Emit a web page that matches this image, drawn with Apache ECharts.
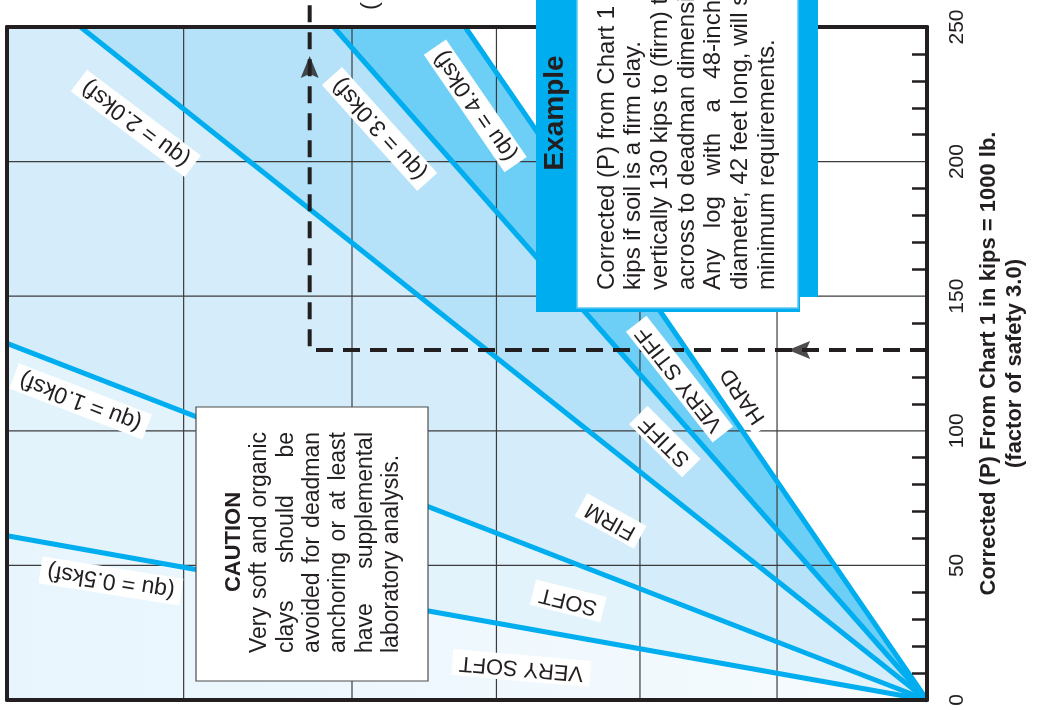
<!DOCTYPE html>
<html><head><meta charset="utf-8">
<script src="https://cdn.jsdelivr.net/npm/echarts@6/dist/echarts.min.js"></script>
<style>html,body{margin:0;padding:0;background:#fff}#c{width:1037px;height:710px}</style>
</head><body><div id="c"></div>
<script>
// ---------------- data ----------------
const pTicks = [0, 50, 100, 150, 200, 250];                 // Corrected (P), kips
const pGrid = [50, 100, 150, 200];
const hGrid = [16.3, 31.2, 46.8, 62.5, 80.8];               // deadman-dimension grid (relative units)
const hMax = 100, pMax = 250;

const quNames = ['(qu = 0.5ksf)', '(qu = 1.0ksf)', '(qu = 2.0ksf)', '(qu = 3.0ksf)', '(qu = 4.0ksf)'];
const quEndH = [100, 100, 92, 64.5, 50.2];                  // where each qu line meets the frame
const quEndP = [61, 132.5, 250, 250, 250];
const quLabelH = [88.7, 92.0, 86.0, 59.5, 49.1];
const quLabelP = [44.2, 110.9, 214.2, 212.1, 220.7];
const quLabelAngle = [171, 159, 143, 132, 124.5];

const soilNames = ['VERY SOFT', 'SOFT', 'FIRM', 'STIFF', 'VERY STIFF', 'HARD'];
const soilLabelH = [44.1, 39.0, 34.4, 28.5, 26.9, 20.0];
const soilLabelP = [11.9, 36.8, 66.5, 96.0, 119.2, 112.9];
const soilLabelAngle = [175, 166, 151, 135, 128, 124];

const exampleP = 130;          // kips
const exampleH = 67.1;         // deadman dimension reached
const examplePTop = 262;

const exampleTitle = 'Example';
const exampleLines = [
  'Corrected (P) from Chart 1 is 130',
  'kips if soil is a firm clay.',
  'vertically 130 kips to (firm) then',
  'across to deadman dimensions.',
  'Any log with a 48-inch',
  'diameter, 42 feet long, will satisfy',
  'minimum requirements.'
];
const cautionTitle = 'CAUTION';
const cautionLines = [
  'Very soft and organic',
  'clays should be',
  'avoided for deadman',
  'anchoring or at least',
  'have supplemental',
  'laboratory analysis.'
];
const axisTitle = 'Corrected (P) From Chart 1 in kips = 1000 lb.\n(factor of safety 3.0)';

// ---------------- styles ----------------
const FONT = "'Liberation Sans', Arial, Helvetica, sans-serif";
const INK = '#231f20';
const CYAN = '#00aeef';
const zoneFills = [
  new echarts.graphic.LinearGradient(0, 0, 1, 0, [{offset: 0, color: '#e8f5fd'}, {offset: 1, color: '#f6fbfe'}]),
  '#e2f3fc', '#d5edfa', '#b5e2f8', '#6dcff6'
];

const zonePolys = [
  [[0, 0], [hMax, 0], [quEndH[0], quEndP[0]]],
  [[0, 0], [quEndH[0], quEndP[0]], [quEndH[1], quEndP[1]]],
  [[0, 0], [quEndH[1], quEndP[1]], [hMax, pMax], [quEndH[2], quEndP[2]]],
  [[0, 0], [quEndH[2], quEndP[2]], [quEndH[3], quEndP[3]]],
  [[0, 0], [quEndH[3], quEndP[3]], [quEndH[4], quEndP[4]]]
];

const chart = echarts.init(document.getElementById('c'), null, {renderer: 'canvas'});

// text measuring for justified box text
const mctx = document.createElement('canvas').getContext('2d');
function measure(t, size, weight) {
  mctx.font = (weight || 'normal') + ' ' + size + 'px ' + FONT;
  return mctx.measureText(t).width;
}
function placeWords(line, size, weight, width) {
  const words = line.split(' ');
  const ws = words.map(w => measure(w, size, weight));
  const total = ws.reduce((a, b) => a + b, 0);
  const gap = (width && words.length > 1) ? (width - total) / (words.length - 1) : measure(' ', size, weight);
  let off = 0;
  return words.map((w, i) => { const r = {text: w, off}; off += ws[i] + gap; return r; });
}
function verticalTextLine(line, x, yStart, size, weight, width, z) {
  return placeWords(line, size, weight, width).map(w => ({
    type: 'text', x: x, y: yStart - w.off, rotation: Math.PI / 2, z: z, silent: true,
    style: {text: w.text, x: 0, y: 0, fill: INK, fontSize: size, fontWeight: weight || 'normal',
      fontFamily: FONT, align: 'left', verticalAlign: 'middle'}
  }));
}

const graphics = [];
// Example box
graphics.push({type: 'rect', z: 20, shape: {x: 536, y: -10, width: 282, height: 307}, style: {fill: CYAN}});
graphics.push({type: 'rect', z: 20, shape: {x: 536, y: -10, width: 264, height: 322}, style: {fill: CYAN}});
graphics.push({type: 'rect', z: 21, shape: {x: 577, y: -10, width: 221, height: 318}, style: {fill: '#fff', stroke: '#5cc8f2', lineWidth: 1.5}});
graphics.push({type: 'text', x: 555, y: 113, rotation: Math.PI / 2, z: 22,
  style: {text: exampleTitle, fill: INK, fontSize: 28, fontWeight: 'bold', fontFamily: FONT, align: 'center', verticalAlign: 'middle'}});
const exampleWidths = [null, null, null, null, 290, null, null];
exampleLines.forEach((ln, i) => {
  graphics.push(...verticalTextLine(ln, 607 + i * 26.67, 290, 24, 'normal', exampleWidths[i], 22));
});
// Caution box
graphics.push({type: 'rect', z: 20, shape: {x: 196, y: 407, width: 232, height: 274}, style: {fill: '#fff', stroke: '#4d4d4d', lineWidth: 1.2}});
graphics.push({type: 'text', x: 233.5, y: 542, rotation: Math.PI / 2, z: 22,
  style: {text: cautionTitle, fill: INK, fontSize: 22, fontWeight: 'bold', fontFamily: FONT, align: 'center', verticalAlign: 'middle'}});
cautionLines.forEach((ln, i) => {
  const last = i === cautionLines.length - 1;
  graphics.push(...verticalTextLine(ln, 259.9 + i * 26.4, 653, 23, 'normal', last ? null : 221, 22));
});
// cut-off text above the frame
graphics.push({type: 'text', x: 370, y: 10, rotation: Math.PI / 2, z: 22,
  style: {text: '(', fill: INK, fontSize: 24, fontFamily: FONT, align: 'left', verticalAlign: 'middle'}});

function labelItem(api, h, p, ang, txt, size) {
  const pt = api.coord([h, p]);
  return {type: 'text', x: pt[0], y: pt[1], rotation: ang * Math.PI / 180,
    style: {text: txt, fill: INK, fontSize: size, fontFamily: FONT, align: 'center', verticalAlign: 'middle',
      backgroundColor: '#fff', padding: [2, 7]}};
}

const option = {
  animation: false,
  backgroundColor: '#fff',
  grid: {left: 7, right: 110, top: 27, bottom: 10, containLabel: false, outerBoundsMode: 'none'},
  xAxis: [
    {type: 'value', position: 'bottom', min: 0, max: hMax, inverse: true, z: 8,
      axisLine: {show: true, onZero: false, lineStyle: {color: INK, width: 4}},
      axisTick: {show: false}, axisLabel: {show: false}, splitLine: {show: false}},
    {type: 'value', position: 'top', min: 0, max: hMax, inverse: true, z: 8,
      axisLine: {show: true, onZero: false, lineStyle: {color: INK, width: 4}},
      axisTick: {show: false}, axisLabel: {show: false}, splitLine: {show: false}}
  ],
  yAxis: [
    {type: 'value', position: 'right', min: pTicks[0], max: pTicks[pTicks.length - 1], interval: 50, z: 8,
      axisLine: {show: true, onZero: false, lineStyle: {color: INK, width: 4}},
      axisTick: {show: false, inside: true},
      minorTick: {show: true, splitNumber: 5, length: 15, lineStyle: {color: INK, width: 2.5}},
      axisLabel: {show: true, rotate: 90, margin: 20, fontSize: 21, color: INK, fontFamily: FONT,
        showMinLabel: true, showMaxLabel: true, hideOverlap: false},
      splitLine: {show: false},
      name: axisTitle, nameLocation: 'middle', nameRotate: 90, nameGap: 37,
      nameTextStyle: {fontSize: 22, fontWeight: 'bold', color: INK, fontFamily: FONT, lineHeight: 26, align: 'center'}},
    {type: 'value', position: 'left', min: 0, max: pMax, z: 8,
      axisLine: {show: true, onZero: false, lineStyle: {color: INK, width: 4}},
      axisTick: {show: false}, axisLabel: {show: false}, splitLine: {show: false}}
  ],
  graphic: {elements: graphics},
  series: [
    { // soil zones
      type: 'custom', name: 'zones', z: 1, silent: true, clip: true,
      data: zonePolys.map(() => [0, 0]),
      renderItem: (params, api) => ({
        type: 'polygon',
        shape: {points: zonePolys[params.dataIndex].map(v => api.coord(v))},
        style: {fill: zoneFills[params.dataIndex]}
      })
    },
    { // vertical grid
      type: 'custom', name: 'vgrid', z: 2, silent: true,
      data: hGrid.map(h => [h, 0]),
      renderItem: (params, api) => {
        const a = api.coord([api.value(0), 0]), b = api.coord([api.value(0), pMax]);
        return {type: 'line', shape: {x1: a[0], y1: a[1], x2: b[0], y2: b[1]}, style: {stroke: '#3c3c3c', lineWidth: 1.2}};
      }
    },
    { // horizontal grid
      type: 'custom', name: 'hgrid', z: 2, silent: true,
      data: pGrid.map(p => [0, p]),
      renderItem: (params, api) => {
        const a = api.coord([0, api.value(1)]), b = api.coord([hMax, api.value(1)]);
        return {type: 'line', shape: {x1: a[0], y1: a[1], x2: b[0], y2: b[1]}, style: {stroke: '#3c3c3c', lineWidth: 1.2}};
      }
    },
    ...quNames.map((n, i) => ({
      type: 'line', name: n, z: 4, silent: true, showSymbol: false, symbol: 'none',
      data: [[0, 0], [quEndH[i], quEndP[i]]],
      lineStyle: {color: CYAN, width: 5}
    })),
    { // example path
      type: 'line', name: 'example', z: 5, silent: true, clip: false, showSymbol: false, symbol: 'none',
      data: [[0, exampleP], [exampleH, exampleP], [exampleH, examplePTop]],
      lineStyle: {color: INK, width: 4, type: [17, 10]}
    },
    { // arrow heads
      type: 'scatter', name: 'arrows', z: 5, silent: true, clip: false,
      symbol: 'path://M9 0L18 22L9 18L0 22Z', symbolSize: [18, 22],
      symbolRotate: (v) => v[2],
      data: [[exampleH, 235.1, 0], [13.9, exampleP, 90]],
      itemStyle: {color: INK}
    },
    { // qu labels
      type: 'custom', name: 'quLabels', z: 6, silent: true, clip: false,
      data: quNames.map((n, i) => [quLabelH[i], quLabelP[i]]),
      renderItem: (params, api) => {
        const i = params.dataIndex;
        return labelItem(api, quLabelH[i], quLabelP[i], quLabelAngle[i], quNames[i], 23);
      }
    },
    { // soil labels
      type: 'custom', name: 'soilLabels', z: 6, silent: true, clip: false,
      data: soilNames.map((n, i) => [soilLabelH[i], soilLabelP[i]]),
      renderItem: (params, api) => {
        const i = params.dataIndex;
        return labelItem(api, soilLabelH[i], soilLabelP[i], soilLabelAngle[i], soilNames[i], 22);
      }
    }
  ]
};
chart.setOption(option);
</script></body></html>
